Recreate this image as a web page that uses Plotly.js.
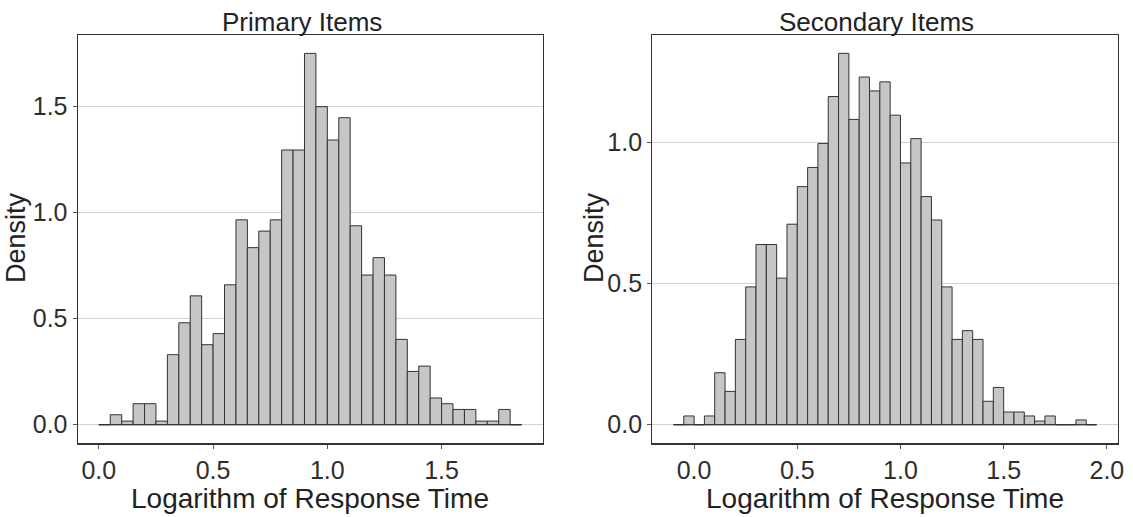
<!DOCTYPE html>
<html>
<head>
<meta charset="utf-8">
<script src="https://cdn.plot.ly/plotly-3.0.1.min.js"></script>
<style>html,body{margin:0;padding:0;background:#fff;}#chart{width:1133px;height:517px;}</style>
</head>
<body>
<div id="chart"></div>
<script>
// Bin settings (log response time, bin width 0.05)
const binWidth = 0.05;
const primaryStart = 0.00;
const secondaryStart = -0.10;

// Densities, one per bin
const primaryDensity = [0, 0.047, 0.017, 0.099, 0.099, 0.017, 0.33, 0.48, 0.607, 0.377,
  0.429, 0.659, 0.965, 0.834, 0.912, 0.965, 1.294, 1.294, 1.749, 1.498,
  1.341, 1.446, 0.937, 0.705, 0.787, 0.705, 0.402, 0.251, 0.276, 0.126,
  0.099, 0.072, 0.072, 0.017, 0.017, 0.072, 0];

const secondaryDensity = [0, 0.031, 0, 0.031, 0.184, 0.118, 0.302, 0.488, 0.638, 0.638,
  0.519, 0.710, 0.843, 0.911, 0.996, 1.162, 1.315, 1.081, 1.231, 1.182,
  1.214, 1.096, 0.927, 1.013, 0.808, 0.725, 0.488, 0.302, 0.333, 0.302,
  0.083, 0.132, 0.045, 0.045, 0.031, 0.013, 0.031, 0, 0, 0.017, 0];

const panelTitles = ["Primary Items", "Secondary Items"];
const xTitle = "Logarithm of Response Time";
const yTitle = "Density";

function centers(start, n) {
  const c = [];
  for (let i = 0; i < n; i++) c.push(+(start + (i + 0.5) * binWidth).toFixed(4));
  return c;
}

const FONT = "Liberation Sans, Arial, sans-serif";
const barStyle = {color: "#c6c6c6", line: {color: "#333333", width: 1}};

function histTraces(start, dens, xa, ya) {
  const n = dens.length;
  return [
    {type: "bar", x: centers(start, n), y: dens, width: binWidth,
     marker: barStyle, xaxis: xa, yaxis: ya, hoverinfo: "x+y"},
    {type: "scatter", mode: "lines",
     x: [start, +(start + n * binWidth).toFixed(4)], y: [0, 0],
     line: {color: "#333333", width: 1}, xaxis: xa, yaxis: ya, hoverinfo: "skip"}
  ];
}

const data = [].concat(
  histTraces(primaryStart, primaryDensity, "x", "y"),
  histTraces(secondaryStart, secondaryDensity, "x2", "y2")
);

function xAxis(domain, range, anchor) {
  return {domain: domain, range: range, anchor: anchor, tick0: 0, dtick: 0.5, tickformat: ".1f",
    showgrid: false, zeroline: false, showline: true, mirror: true, linecolor: "#333333", linewidth: 1.2,
    ticks: "outside", ticklen: 4, tickcolor: "#555555", tickwidth: 1,
    tickfont: {family: FONT, size: 25, color: "#2e2e2e"}, fixedrange: true};
}
function yAxis(domain, range, anchor) {
  return {domain: domain, range: range, anchor: anchor, tick0: 0, dtick: 0.5, tickformat: ".1f",
    showgrid: true, gridcolor: "#d3d3d3", gridwidth: 1.2, zeroline: false,
    showline: true, mirror: true, linecolor: "#333333", linewidth: 1.2,
    ticks: "outside", ticklen: 4, tickcolor: "#555555", tickwidth: 1,
    tickfont: {family: FONT, size: 25, color: "#2e2e2e"}, fixedrange: true};
}

const W = 1133, H = 517;
const d1 = [77.7 / W, 542.7 / W], d2 = [652.3 / W, 1117.7 / W];
const dy = [1 - 443.3 / H, 1 - 34.7 / H];

function ann(text, x, y, angle, size) {
  return {text: text, xref: "paper", yref: "paper", x: x, y: y, showarrow: false,
    xanchor: "center", yanchor: "middle", textangle: angle || 0,
    font: {family: FONT, size: size || 26, color: "#222222"}};
}

const layout = {
  width: W, height: H,
  margin: {l: 0, r: 0, t: 0, b: 0},
  paper_bgcolor: "#ffffff", plot_bgcolor: "#ffffff",
  showlegend: false, bargap: 0,
  xaxis: xAxis(d1, [-0.0925, 1.9425], "y"),
  yaxis: yAxis(dy, [-0.0875, 1.837], "x"),
  xaxis2: xAxis(d2, [-0.2025, 2.0525], "y2"),
  yaxis2: yAxis(dy, [-0.0658, 1.381], "x2"),
  annotations: [
    ann(panelTitles[0], (d1[0] + d1[1]) / 2 - 8 / W, 1 - 22 / H),
    ann(panelTitles[1], (d2[0] + d2[1]) / 2 - 8 / W, 1 - 22 / H),
    ann(xTitle, (d1[0] + d1[1]) / 2, 1 - 498 / H, 0, 28),
    ann(xTitle, (d2[0] + d2[1]) / 2, 1 - 498 / H, 0, 28),
    ann(yTitle, 16 / W, 1 - 238 / H, -90, 27),
    ann(yTitle, 594 / W, 1 - 238 / H, -90, 27)
  ]
};

Plotly.newPlot("chart", data, layout, {displayModeBar: false, staticPlot: true});
</script>
</body>
</html>
